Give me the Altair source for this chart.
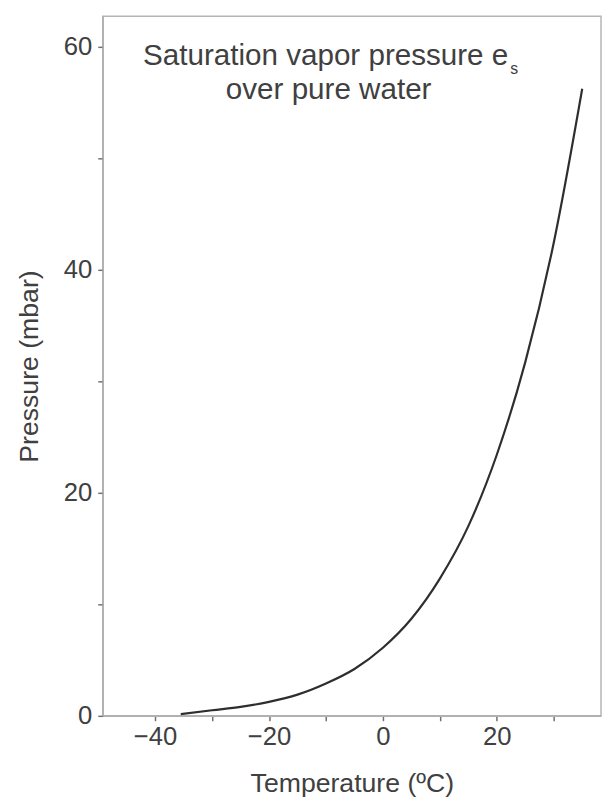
import altair as alt
import pandas as pd

# Data
temperature_c = [-35.5, -30, -25, -20, -15, -10, -5, 0, 5, 10, 15, 20, 25, 30, 35]
pressure_mbar = [0.15, 0.5, 0.8, 1.25, 1.9, 2.9, 4.2, 6.1, 8.7, 12.3, 17.0, 23.4, 31.7, 42.4, 56.2]

x_ticks = [-40, -30, -20, -10, 0, 10, 20, 30]
y_ticks = [0, 10, 20, 30, 40, 50, 60]

x_title = "Temperature (\u00baC)"
y_title = "Pressure (mbar)"
note_line1 = "Saturation vapor pressure e"
note_sub = "s"
note_line2 = "over pure water"

FONT = "Liberation Sans"
TXT = "#404040"

df = pd.DataFrame({"T": temperature_c, "es": pressure_mbar})

x_scale = alt.Scale(domain=[-49.2, 38.3], nice=False, zero=False)
y_scale = alt.Scale(domain=[0, 62.7], nice=False)

curve = alt.Chart(df).mark_line(color="#2e2e2e", strokeWidth=2.2, interpolate="monotone").encode(
    x=alt.X("T:Q", scale=x_scale, title=x_title,
            axis=alt.Axis(values=x_ticks, labelExpr="datum.value % 20 === 0 ? datum.label : ''",
                          grid=False, tickSize=5, labelPadding=3, titlePadding=22)),
    y=alt.Y("es:Q", scale=y_scale, title=y_title,
            axis=alt.Axis(values=y_ticks, labelExpr="datum.value % 20 === 0 ? datum.label : ''",
                          grid=False, tickSize=5, labelPadding=6, titlePadding=20)),
)

note_df = pd.DataFrame({"a": [0]})
line1 = alt.Chart(note_df).mark_text(align="right", baseline="alphabetic", fontSize=30, font=FONT, color=TXT).encode(
    x=alt.value(411), y=alt.value(49), text=alt.value(note_line1))
sub = alt.Chart(note_df).mark_text(align="left", baseline="alphabetic", fontSize=16, font=FONT, color=TXT).encode(
    x=alt.value(413), y=alt.value(59), text=alt.value(note_sub))
line2 = alt.Chart(note_df).mark_text(align="center", baseline="alphabetic", fontSize=30, font=FONT, color=TXT).encode(
    x=alt.value(229), y=alt.value(84), text=alt.value(note_line2))

chart = alt.layer(curve, line1, sub, line2).properties(
    width=505, height=709,
    autosize=alt.AutoSizeParams(type="none"),
    padding={"left": 96, "top": 3, "right": 1, "bottom": 84},
).configure_view(stroke="#b5b5b5", strokeWidth=1.5).configure_axis(
    domainColor="#b0b0b0", domainWidth=1.5, tickColor="#707070", tickWidth=1.5,
    labelFont=FONT, labelFontSize=26, labelColor=TXT,
    titleFont=FONT, titleFontSize=27, titleFontWeight="normal", titleColor=TXT,
)

chart.save("out.html", embed_options={"renderer": "svg", "actions": False})
